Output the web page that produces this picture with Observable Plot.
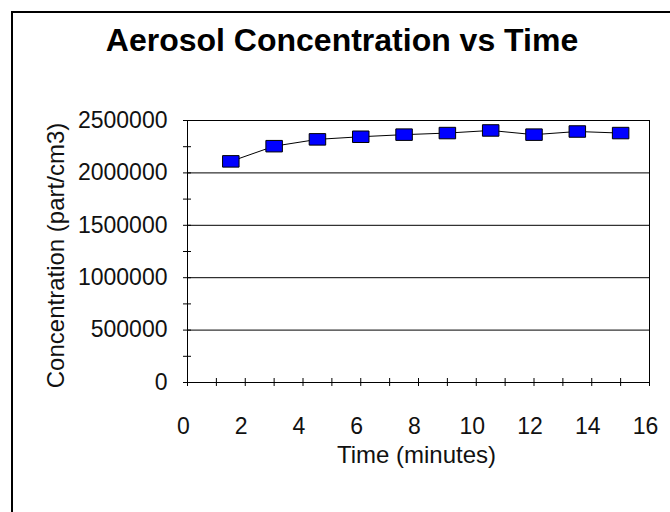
<!DOCTYPE html>
<html><head><meta charset="utf-8">
<script src="https://cdn.jsdelivr.net/npm/d3@7"></script>
<script src="https://cdn.jsdelivr.net/npm/@observablehq/plot@0.6"></script>
<style>
html,body{margin:0;padding:0;background:#fff;overflow:hidden;}
#wrap{position:relative;width:670px;height:512px;overflow:hidden;font-family:"Liberation Sans",Arial,sans-serif;}
#frame{position:absolute;left:11px;top:11px;width:700px;height:600px;border-left:2px solid #000;border-top:2px solid #000;}
#title{position:absolute;left:0;top:24px;width:684px;text-align:center;font-size:32px;font-weight:bold;line-height:32px;color:#000;}
#chart{position:absolute;left:0;top:0;}
</style></head><body>
<div id="wrap"><div id="frame"></div><div id="chart"></div><div id="title">Aerosol Concentration vs Time</div></div>
<script>
const times = [1.5, 3, 4.5, 6, 7.5, 9, 10.5, 12, 13.5, 15];
const conc = [2110000, 2255000, 2320000, 2345000, 2365000, 2380000, 2405000, 2365000, 2395000, 2380000];
const yMajor = [0, 500000, 1000000, 1500000, 2000000, 2500000];
const yMinor = [0, 250000, 500000, 750000, 1000000, 1250000, 1500000, 1750000, 2000000, 2250000, 2500000];
const xTicks = [0,1,2,3,4,5,6,7,8,9,10,11,12,13,14,15,16];
const xLabels = [0,2,4,6,8,10,12,14,16];
const xTitle = "Time (minutes)";
const yTitle = "Concentration (part/cm3)";

const data = times.map((t, i) => ({t, c: conc[i]}));
const square = {draw(ctx, size) {
  ctx.moveTo(-8.25, -5.75); ctx.lineTo(8.25, -5.75); ctx.lineTo(8.25, 5.75); ctx.lineTo(-8.25, 5.75); ctx.closePath();
}};

const chart = Plot.plot({
  width: 670, height: 512,
  marginLeft: 187, marginRight: 21, marginTop: 120, marginBottom: 130,
  style: {fontFamily: "Liberation Sans, Arial, sans-serif", background: "transparent", color: "#000"},
  x: {domain: [0, 16]},
  y: {domain: [0, 2500000]},
  marks: [
    Plot.ruleY(yMajor, {stroke: "#000"}),
    Plot.frame({stroke: "#000"}),
    Plot.axisY({ticks: yMinor, tickSize: 8, dx: 4, fill: "none", label: null}),
    Plot.axisY({ticks: yMajor, tickSize: 0, tickPadding: 20, tickFormat: d => String(d), fontSize: 23, fill: "#111", label: null}),
    Plot.axisX({ticks: xTicks, tickSize: 8, dy: -4, fill: "none", label: null}),
    Plot.axisX({ticks: xLabels, tickSize: 0, tickPadding: 35, tickFormat: d => String(d), fontSize: 23, dx: -4, fill: "#111", label: null}),
    Plot.line(data, {x: "t", y: "c", stroke: "#000", strokeWidth: 1}),
    Plot.dot(data, {x: "t", y: "c", symbol: square, fill: "#0000ff", stroke: "#000", strokeWidth: 1, r: 8}),
    Plot.text([xTitle], {text: d => d, frameAnchor: "bottom", dy: 80, dx: -2, fontSize: 24, fill: "#111"}),
    Plot.text([yTitle], {text: d => d, frameAnchor: "left", textAnchor: "middle", rotate: -90, dx: -131, dy: 4, fontSize: 24, fill: "#111"})
  ]
});
document.getElementById("chart").appendChild(chart);
</script>
</body></html>
